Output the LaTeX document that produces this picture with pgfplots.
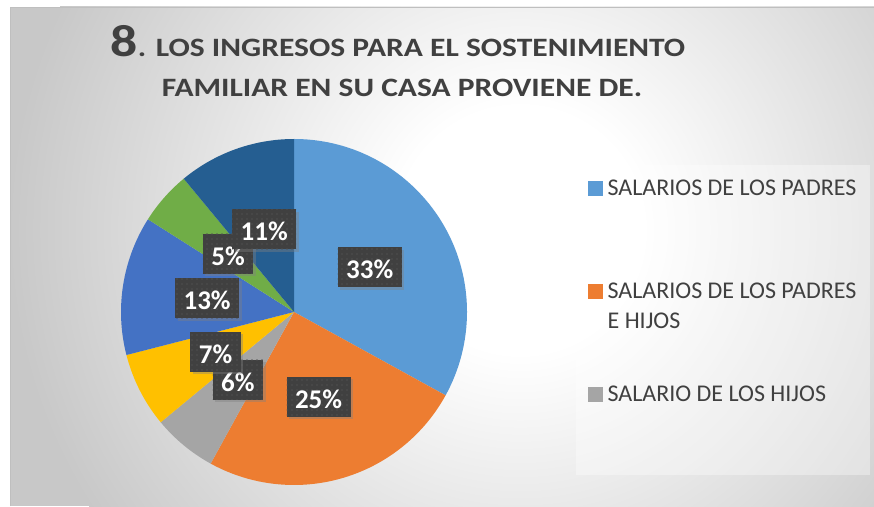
\documentclass[border=0pt]{standalone}
\usepackage{pgfplots}
\pgfplotsset{compat=1.18}
\usepackage{pgfplotstable}
\usepackage{fontspec}
\setmainfont{Carlito}
\usetikzlibrary{shadows,patterns}

\definecolor{pie0}{HTML}{5B9BD5}
\definecolor{pie1}{HTML}{ED7D31}
\definecolor{pie2}{HTML}{A5A5A5}
\definecolor{pie3}{HTML}{FFC000}
\definecolor{pie4}{HTML}{4472C4}
\definecolor{pie5}{HTML}{70AD47}
\definecolor{pie6}{HTML}{255E91}
\definecolor{txt}{HTML}{404040}
\definecolor{lblfill}{HTML}{404040}
\definecolor{dotc}{HTML}{525252}
\definecolor{bgout}{HTML}{C8C8C8}

\pgfdeclareradialshading{bgshade}{\pgfpointorigin}{color(0bp)=(white); color(12bp)=(white); color(50bp)=(bgout)}
\pgfdeclarepatternformonly{sqdots}{\pgfqpoint{0pt}{0pt}}{\pgfqpoint{5pt}{5pt}}{\pgfqpoint{5pt}{5pt}}{%
  \pgfpathrectangle{\pgfqpoint{1.5pt}{1.5pt}}{\pgfqpoint{1.6pt}{1.6pt}}\pgfusepath{fill}}

\tikzset{pielabel/.style={fill=lblfill, text=white, font=\fontsize{27}{30}\selectfont\bfseries,
  inner xsep=8.5pt, inner ysep=4pt, text height=27.6pt, text depth=4.4pt,
  drop shadow={shadow xshift=2.5pt, shadow yshift=-2.5pt, opacity=0.4},
  postaction={pattern=sqdots, pattern color=dotc}}}

% percentages of the seven slices (clockwise from 12 o'clock)
\pgfplotstableread{
value
33
25
6
7
13
5
11
}\piedata

\def\cumsum{0}%
\gdef\pieslices{}%
\gdef\pielabels{}%
\pgfplotstableforeachcolumnelement{value}\of\piedata\as\val{%
  \pgfmathsetmacro\sA{90-3.6*\cumsum}%
  \pgfmathsetmacro\nc{\cumsum+\val}%
  \pgfmathsetmacro\sB{90-3.6*\nc}%
  \pgfmathsetmacro\sM{(\sA+\sB)/2}%
  \xdef\pieslices{\unexpanded\expandafter{\pieslices}\noexpand\fill[pie\pgfplotstablerow] (axis cs:294,194) -- ++(\sA:173pt) arc[start angle=\sA, end angle=\sB, radius=173pt] -- cycle;}%
  \xdef\pielabels{\unexpanded\expandafter{\pielabels}\noexpand\node[pielabel] at ([shift={(\sM:88pt)}]axis cs:294,194) {\val\noexpand\%};}%
  \xdef\cumsum{\nc}%
}

\begin{document}
\begin{tikzpicture}
\useasboundingbox (0,0) rectangle (874pt,506pt);
% page and chart-area background
\fill[white] (0,0) rectangle (874pt,506pt);
\begin{scope}
\clip (10pt,0pt) rectangle (874pt,499pt);
\fill[bgout] (10pt,0pt) rectangle (874pt,499pt);
\begin{pgfscope}
\pgftransformshift{\pgfpoint{520pt}{276pt}}%
\pgftransformscale{10.2}%
\pgflowlevelsynccm
\pgfuseshading{bgshade}%
\end{pgfscope}
\draw[black!25, line width=0.8pt] (10pt,0pt) -- (10pt,499pt) -- (874pt,499pt);
\end{scope}
% legend panel
\fill[white, opacity=0.35] (576pt,31pt) rectangle (870pt,341pt);

\begin{axis}[
  x=1pt, y=1pt, xmin=0, xmax=874, ymin=0, ymax=506,
  at={(0,0)}, anchor=origin,
  hide axis, clip=false,
  legend style={
    at={(0.67277,0.64486)}, anchor=north west,
    draw=none, fill=none, inner sep=0pt,
    cells={anchor=base west},
    nodes={inner sep=0pt, text depth=},
    column sep=5.5pt, row sep=0pt,
    font=\fontsize{24}{30}\selectfont, text=txt,
  },
]
\pieslices
\pielabels
\addlegendimage{legend image code/.code={\fill[pie0] (0pt,0.5pt) rectangle (13.5pt,14pt);}}
\addlegendentry{\parbox[t][103pt][t]{262pt}{\raggedright SALARIOS DE LOS PADRES}}
\addlegendimage{legend image code/.code={\fill[pie1] (0pt,0.5pt) rectangle (13.5pt,14pt);}}
\addlegendentry{\parbox[t][103pt][t]{262pt}{\raggedright SALARIOS DE LOS PADRES E HIJOS}}
\addlegendimage{legend image code/.code={\fill[pie2] (0pt,0.5pt) rectangle (13.5pt,14pt);}}
\addlegendentry{\parbox[t][103pt][t]{262pt}{\raggedright SALARIO DE LOS HIJOS}}
\end{axis}

% title
\node[anchor=base, text=txt, inner sep=0pt, xscale=1.19] at (398pt,449.3pt)
  {\bfseries{\fontsize{45}{45}\selectfont 8}{\fontsize{26.5}{30}\selectfont. LOS INGRESOS PARA EL SOSTENIMIENTO}};
\node[anchor=base, text=txt, inner sep=0pt, xscale=1.19] at (402pt,409.3pt)
  {\bfseries\fontsize{26.5}{30}\selectfont FAMILIAR EN SU CASA PROVIENE DE.};
\end{tikzpicture}
\end{document}
